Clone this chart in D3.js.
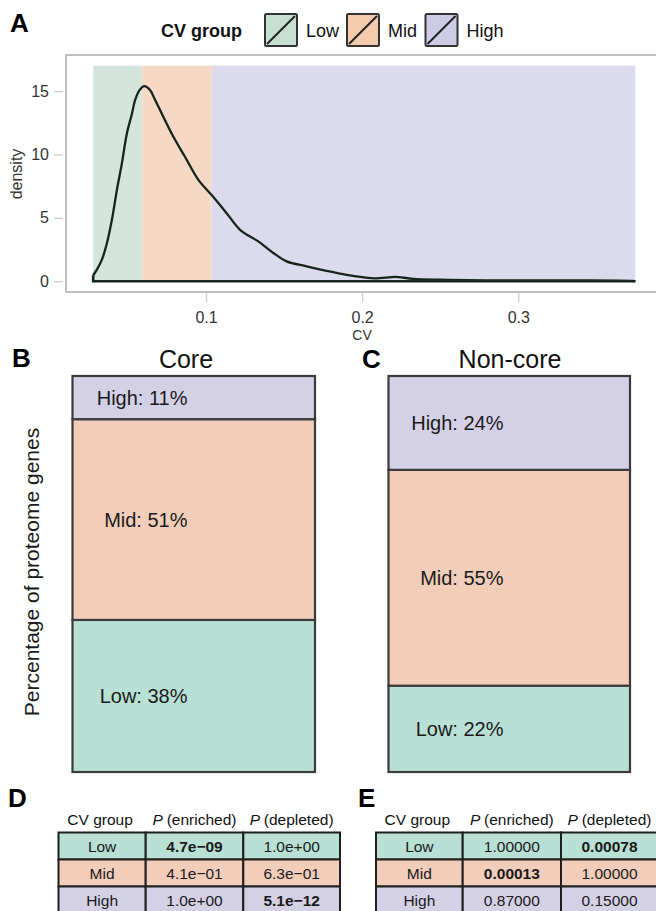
<!DOCTYPE html>
<html>
<head>
<meta charset="utf-8">
<script src="https://cdn.jsdelivr.net/npm/d3@7"></script>
<style>
  html, body { margin: 0; padding: 0; background: #fff; }
  svg { display: block; font-family: "Liberation Sans", Arial, Helvetica, sans-serif; }
</style>
</head>
<body>
<svg id="chart" width="656" height="911"></svg>
<script>
// ---------------- DATA ----------------
const cvGroups = ["Low", "Mid", "High"];
const groupBreaks = [0.0277, 0.0592, 0.1036, 0.375];   // CV group boundaries
const shadeTop = 17;
const cvValues = [0.0277, 0.0301, 0.0333, 0.0365, 0.0397, 0.0429, 0.0461, 0.0493, 0.0525, 0.0546,
  0.0575, 0.0605, 0.0640, 0.0674, 0.0727, 0.0791, 0.0866, 0.0951, 0.1036, 0.1132, 0.1218, 0.1335,
  0.1431, 0.1516, 0.1644, 0.1772, 0.1900, 0.2000, 0.2092, 0.2150, 0.2209, 0.2326, 0.2500, 0.2668,
  0.2900, 0.3094, 0.3393, 0.3732, 0.3750];
const densityValues = [0.47, 0.92, 1.7, 3.0, 4.85, 7.2, 9.3, 11.66, 13.2, 14.3,
  15.1, 15.4, 15.1, 14.3, 12.96, 11.4, 9.8, 8.0, 6.8, 5.37, 4.06, 3.14,
  2.23, 1.57, 1.18, 0.82, 0.5, 0.32, 0.22, 0.28, 0.35, 0.19, 0.12, 0.08,
  0.07, 0.07, 0.07, 0.03, 0];
const xTicks = [0.1, 0.2, 0.3];
const yTicks = [0, 5, 10, 15];

const corePct = [38.4, 50.7, 10.9];      // Low, Mid, High
const nonCorePct = [21.8, 54.5, 23.7];   // Low, Mid, High

const tableHeaders = ["CV group", "(enriched)", "(depleted)"];
const dEnriched = ["4.7e\u221209", "4.1e\u221201", "1.0e+00"];
const dDepleted = ["1.0e+00", "6.3e\u221201", "5.1e\u221212"];
const eEnriched = ["1.00000", "0.00013", "0.87000"];
const eDepleted = ["0.00078", "1.00000", "0.15000"];

// ---------------- STYLE ----------------
const shadeColors = {Low: "#d3e5dc", Mid: "#f6d9c5", High: "#dcdbee"};
const keyColors = {Low: "#c6e1d2", Mid: "#f5cbad", High: "#cecbe6"};
const barColors = {Low: "#b9e0d4", Mid: "#f2cdba", High: "#d4d1e6"};

const svg = d3.select("#chart");

// Panel letters
const letters = [["A", 10, 32], ["B", 12, 367], ["C", 362, 368], ["D", 8, 807], ["E", 358, 807]];
svg.selectAll("text.letter").data(letters).join("text")
  .attr("class", "letter")
  .attr("x", d => d[1]).attr("y", d => d[2])
  .attr("font-size", 26).attr("font-weight", "bold").attr("fill", "#000")
  .text(d => d[0]);

// ---------------- PANEL A ----------------
const x = d3.scaleLinear().domain([0.0103, 0.3924]).range([66, 662.5]);
const y = d3.scaleLinear().domain([-0.85, 17.85]).range([292, 55]);

// legend
const leg = svg.append("g");
leg.append("text").attr("x", 161).attr("y", 37).attr("font-size", 18).attr("font-weight", "bold")
  .attr("fill", "#111").text("CV group");
const keyX = [265, 347, 425.5];
cvGroups.forEach((g, i) => {
  const k = leg.append("g").attr("transform", `translate(${keyX[i]},14)`);
  k.append("rect").attr("x", 0).attr("y", 0).attr("width", 32).attr("height", 32)
    .attr("fill", keyColors[g]).attr("stroke", "#333").attr("stroke-width", 2).attr("rx", 1.5);
  k.append("line").attr("x1", 2).attr("y1", 30).attr("x2", 30).attr("y2", 2)
    .attr("stroke", "#222").attr("stroke-width", 2);
  leg.append("text").attr("x", keyX[i] + 41).attr("y", 37).attr("font-size", 18)
    .attr("fill", "#111").text(g);
});

// shading
const shade = svg.append("g");
cvGroups.forEach((g, i) => {
  shade.append("rect")
    .attr("x", x(groupBreaks[i])).attr("y", y(shadeTop))
    .attr("width", x(groupBreaks[i + 1]) - x(groupBreaks[i]))
    .attr("height", y(0) - y(shadeTop))
    .attr("fill", shadeColors[g]);
});

// frame
svg.append("rect").attr("x", x.range()[0]).attr("y", 55)
  .attr("width", x.range()[1] - x.range()[0]).attr("height", 237)
  .attr("fill", "none").attr("stroke", "#b0b0b0").attr("stroke-width", 1.6);

// density curve
const pts = cvValues.map((c, i) => [c, densityValues[i]]);
const line = d3.line().x(d => x(d[0])).y(d => y(d[1])).curve(d3.curveCatmullRom.alpha(0.5));
svg.append("path").attr("d", line(pts)).attr("fill", "none")
  .attr("stroke", "#15241c").attr("stroke-width", 2.3).attr("stroke-linejoin", "round");
svg.append("path")
  .attr("d", `M${x(cvValues[0])},${y(densityValues[0])} L${x(cvValues[0])},${y(0)} L${x(cvValues[cvValues.length - 1])},${y(0)}`)
  .attr("fill", "none").attr("stroke", "#15241c").attr("stroke-width", 2.6);

// axes
const yAxis = svg.append("g").attr("transform", "translate(63,0)")
  .call(d3.axisLeft(y).tickValues(yTicks).tickSize(9).tickPadding(5).tickFormat(d3.format("d")));
const xAxis = svg.append("g").attr("transform", "translate(0,293)")
  .call(d3.axisBottom(x).tickValues(xTicks).tickSize(9).tickPadding(10).tickFormat(d3.format(".1f")));
[yAxis, xAxis].forEach(a => {
  a.select(".domain").remove();
  a.selectAll(".tick line").attr("stroke", "#cfcfcf").attr("stroke-width", 1.3);
  a.selectAll(".tick text").attr("font-size", 16).attr("fill", "#333")
    .attr("font-family", "'Liberation Sans', Arial, sans-serif");
});
svg.append("text").attr("transform", "translate(22,174) rotate(-90)").attr("text-anchor", "middle")
  .attr("font-size", 16).attr("fill", "#333").text("density");
svg.append("text").attr("x", 362).attr("y", 340).attr("text-anchor", "middle")
  .attr("font-size", 14).attr("fill", "#333").text("CV");

// ---------------- PANELS B & C ----------------
const yBar = d3.scaleLinear().domain([0, 100]).range([772, 376]);
function stackedBar(pcts, left, right, title, titleX) {
  const g = svg.append("g");
  let cum = 0;
  pcts.forEach((p, i) => {
    const y0 = yBar(cum), y1 = yBar(cum + p);
    g.append("rect").attr("x", left).attr("y", y1).attr("width", right - left).attr("height", y0 - y1)
      .attr("fill", barColors[cvGroups[i]]).attr("stroke", "#3b3b3b").attr("stroke-width", 2.2);
    g.append("text").attr("x", left + 115).attr("y", (y0 + y1) / 2).attr("dy", "0.36em")
      .attr("text-anchor", "end").attr("font-size", 20).attr("fill", "#1a1a1a")
      .text(`${cvGroups[i]}: ${Math.round(p)}%`);
    cum += p;
  });
  svg.append("text").attr("x", titleX).attr("y", 368).attr("text-anchor", "middle")
    .attr("font-size", 25).attr("fill", "#111").text(title);
}
stackedBar(corePct, 72.5, 315, "Core", 186);
stackedBar(nonCorePct, 388.5, 630, "Non-core", 510);
svg.append("text").attr("transform", "translate(39,572) rotate(-90)").attr("text-anchor", "middle")
  .attr("font-size", 21).attr("fill", "#1a1a1a").text("Percentage of proteome genes");

// ---------------- TABLES D & E ----------------
function pTable(left, colW, enriched, depleted) {
  const g = svg.append("g");
  const xs = [left, left + colW[0], left + colW[0] + colW[1], left + colW[0] + colW[1] + colW[2]];
  const top = 832.5, rowH = 27;
  g.append("text").attr("x", (xs[0] + xs[1]) / 2 - 2).attr("y", 825).attr("text-anchor", "middle")
    .attr("font-size", 15.5).attr("fill", "#111").text(tableHeaders[0]);
  [1, 2].forEach(c => {
    const t = g.append("text").attr("x", (xs[c] + xs[c + 1]) / 2).attr("y", 825).attr("text-anchor", "middle")
      .attr("font-size", 15.5).attr("fill", "#111");
    t.append("tspan").attr("font-style", "italic").text("P ");
    t.append("tspan").text(tableHeaders[c]);
  });
  cvGroups.forEach((grp, r) => {
    const cells = [grp, enriched[r], depleted[r]];
    cells.forEach((val, c) => {
      g.append("rect").attr("x", xs[c]).attr("y", top + r * rowH).attr("width", xs[c + 1] - xs[c]).attr("height", rowH)
        .attr("fill", barColors[grp]).attr("stroke", "#1f1f1f").attr("stroke-width", 2);
      const num = c > 0 ? parseFloat(val.replace("\u2212", "-")) : 1;
      g.append("text").attr("x", (xs[c] + xs[c + 1]) / 2).attr("y", top + r * rowH + rowH / 2).attr("dy", "0.36em")
        .attr("text-anchor", "middle").attr("font-size", 15.5).attr("fill", "#1a1a1a")
        .attr("font-weight", num < 0.05 ? "bold" : "normal").text(val);
    });
  });
}
pTable(58.5, [87.2, 97.6, 96.7], dEnriched, dDepleted);
pTable(376, [86.7, 98.3, 97], eEnriched, eDepleted);
</script>
</body>
</html>
